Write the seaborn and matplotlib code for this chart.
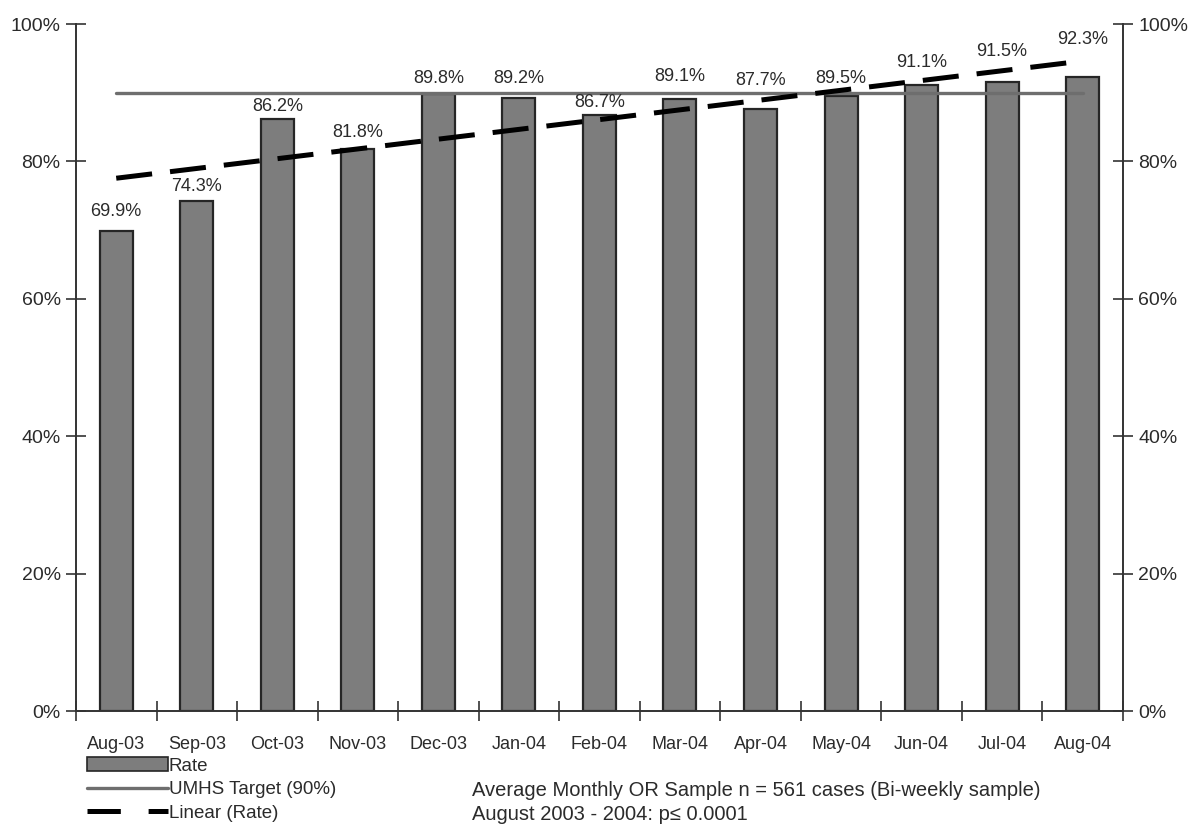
import matplotlib
matplotlib.use("Agg")

import matplotlib.pyplot as plt
import numpy as np
import pandas as pd
import seaborn as sns
from matplotlib.lines import Line2D
from matplotlib.patches import Patch
from matplotlib.ticker import FixedLocator, PercentFormatter

# Monthly compliance rate (%)
months = ["Aug-03", "Sep-03", "Oct-03", "Nov-03", "Dec-03", "Jan-04", "Feb-04",
          "Mar-04", "Apr-04", "May-04", "Jun-04", "Jul-04", "Aug-04"]
rates = [69.9, 74.3, 86.2, 81.8, 89.8, 89.2, 86.7, 89.1, 87.7, 89.5, 91.1, 91.5, 92.3]
target = 90.0
yticks = [0, 20, 40, 60, 80, 100]

note_lines = [
    "Average Monthly OR Sample n = 561 cases (Bi-weekly sample)",
    "August 2003 - 2004: p\u2264 0.0001",
]

# how far (points) each value label sits above its bar, labels were hand-placed
label_raise = [14, 10, 9, 12, 11.5, 14, 9, 16, 20, 13, 16, 22, 27]

BAR_COLOR = "#7d7d7d"
EDGE_COLOR = "#262626"
TARGET_COLOR = "#6e6e6e"
TEXT_COLOR = "#2b2b2b"

sns.set_theme(style="white")
plt.rcParams["font.family"] = ["Liberation Sans", "DejaVu Sans"]
plt.rcParams["lines.scale_dashes"] = False

df = pd.DataFrame({"month": months, "rate": rates})
pos = np.arange(len(months))

fig = plt.figure(figsize=(12.02, 8.31), dpi=100)
ax = fig.add_axes([0.0632, 0.1444, 0.871, 0.8267])

sns.barplot(data=df, x="month", y="rate", color=BAR_COLOR, saturation=1,
            edgecolor=EDGE_COLOR, linewidth=1.6, width=0.41, ax=ax)

# target line from first to last month
ax.plot([pos[0], pos[-1]], [target, target], color=TARGET_COLOR, lw=2.4, zorder=3)

# linear trend of the rate
slope, intercept = np.polyfit(pos, rates, 1)
trend = slope * pos + intercept
ax.plot(pos, trend, color="black", lw=3.6, dashes=(26, 13), zorder=4,
        solid_capstyle="butt", dash_capstyle="butt")

# value labels
for x, v, dy in zip(pos, rates, label_raise):
    ax.annotate(f"{v:.1f}%", (x, v), xytext=(0, dy), textcoords="offset points",
                ha="center", va="center", fontsize=13, color=TEXT_COLOR)

ax.set_xlim(-0.5, len(months) - 0.5)
ax.set_ylim(0, 100)
ax.set_xlabel("")
ax.set_ylabel("")
ax.set_yticks(yticks)
ax.yaxis.set_major_formatter(PercentFormatter(decimals=0))

# ticks between the months, labels under the bars
ax.xaxis.set_minor_locator(FixedLocator(np.arange(-0.5, len(months), 1.0)))
ax.tick_params(axis="x", which="major", length=0, pad=18, labelsize=13,
               labelcolor=TEXT_COLOR)
ax.tick_params(axis="x", which="minor", direction="inout", length=14, width=1.2,
               color="#333333", bottom=True)
ax.tick_params(axis="y", direction="inout", length=14, width=1.2, color="#333333",
               labelsize=14, labelcolor=TEXT_COLOR, pad=4, left=True)

ax2 = ax.twinx()
ax2.set_ylim(0, 100)
ax2.set_yticks(yticks)
ax2.yaxis.set_major_formatter(PercentFormatter(decimals=0))
ax2.tick_params(axis="y", direction="inout", length=14, width=1.2, color="#333333",
                labelsize=14, labelcolor=TEXT_COLOR, pad=4, right=True)
ax2.grid(False)

for a in (ax, ax2):
    a.spines["top"].set_visible(False)
    for side in ("left", "right", "bottom"):
        a.spines[side].set_color("#333333")
        a.spines[side].set_linewidth(1.4)
ax.spines["right"].set_visible(False)
ax2.spines["left"].set_visible(False)
ax2.spines["bottom"].set_visible(False)

handles = [
    Patch(facecolor=BAR_COLOR, edgecolor=EDGE_COLOR, linewidth=1.2),
    Line2D([0], [0], color=TARGET_COLOR, lw=2.4),
    Line2D([0], [0], color="black", lw=3.6, dashes=(24, 20)),
]
fig.legend(handles, ["Rate", "UMHS Target (90%)", "Linear (Rate)"],
           loc="upper left", bbox_to_anchor=(0.0724, 0.0885), frameon=False,
           fontsize=13.5, handlelength=4.3, handleheight=0.75, handletextpad=0.05,
           labelspacing=0.33, borderaxespad=0, borderpad=0, labelcolor=TEXT_COLOR)

fig.text(472 / 1202, 1 - 791 / 831, note_lines[0], fontsize=14.5,
         color=TEXT_COLOR, va="center", ha="left")
fig.text(472 / 1202, 1 - 814 / 831, note_lines[1], fontsize=14.5,
         color=TEXT_COLOR, va="center", ha="left")

fig.savefig("out.png", dpi=100)
plt.close(fig)
